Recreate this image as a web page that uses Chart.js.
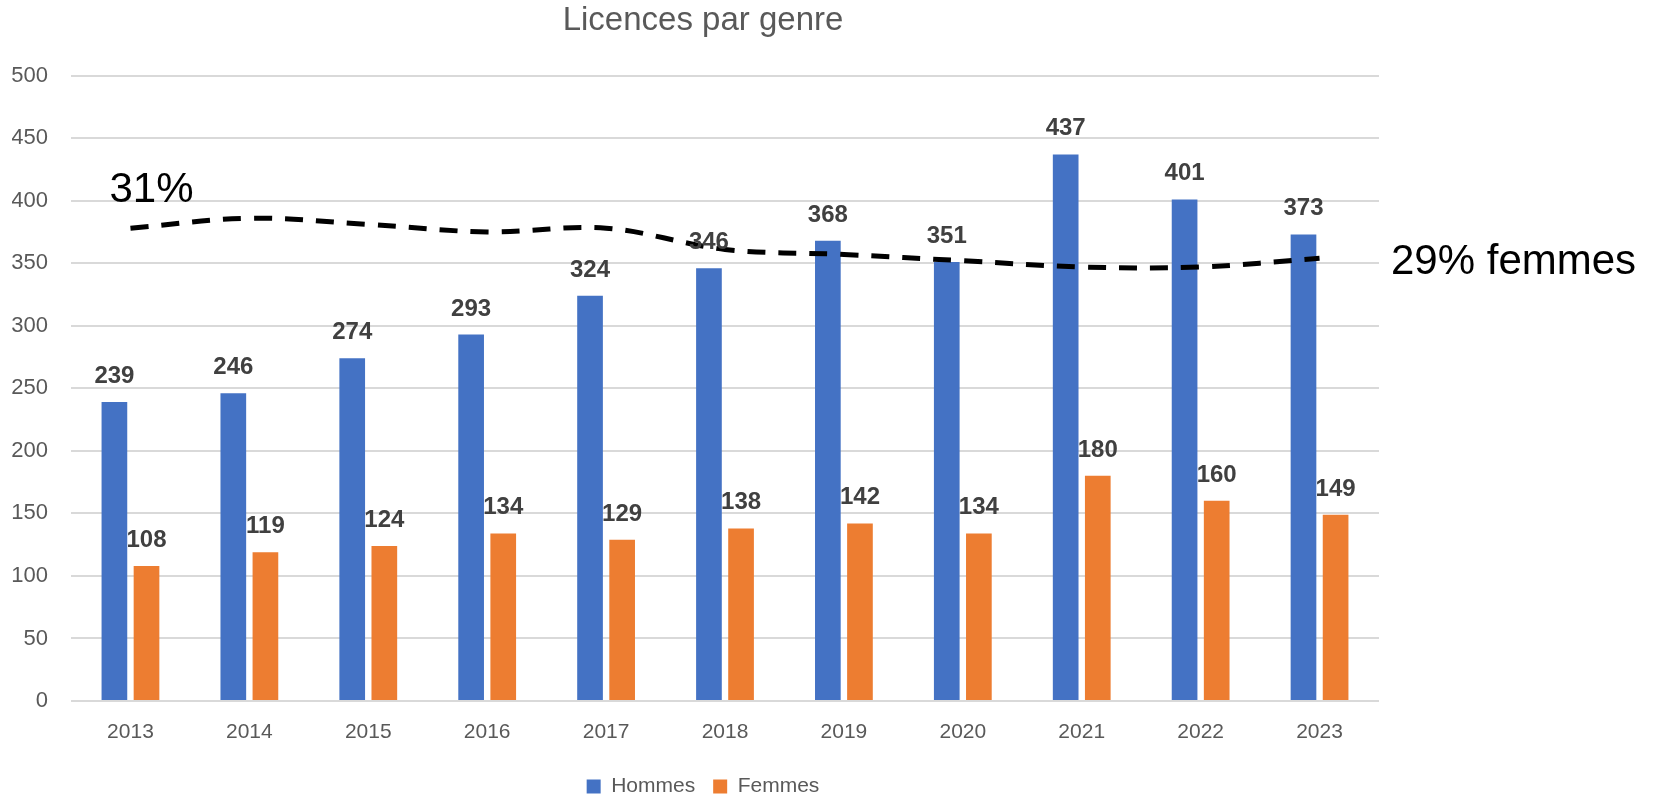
<!DOCTYPE html>
<html>
<head>
<meta charset="utf-8">
<script src="https://cdn.jsdelivr.net/npm/chart.js@4.4.1/dist/chart.umd.min.js"></script>
<style>
  html, body { margin: 0; padding: 0; background: #fff; }
  #wrap { width: 1663px; height: 797px; position: relative; }
</style>
</head>
<body>
<div id="wrap"><canvas id="licChart"></canvas></div>
<script>
// Licences par genre - bars + dashed share line

const years = ["2013","2014","2015","2016","2017","2018","2019","2020","2021","2022","2023"];
const hommes = [239, 246, 274, 293, 324, 346, 368, 351, 437, 401, 373];
const femmes = [108, 119, 124, 134, 129, 138, 142, 134, 180, 160, 149];
// dashed trend, read on the left axis scale
const tendance = [378, 386, 381, 375, 378, 361, 357, 352, 347, 347, 354];
const yTicks = [0, 50, 100, 150, 200, 250, 300, 350, 400, 450, 500];

const FONT = "'Liberation Sans', Arial, sans-serif";
const GREY = '#595959';

// value labels above the bars
const barLabels = {
    id: 'barLabels',
    afterDatasetsDraw(chart) {
        const ctx = chart.ctx;
        ctx.save();
        ctx.font = 'bold 24px ' + FONT;
        ctx.fillStyle = '#404040';
        ctx.textAlign = 'center';
        ctx.textBaseline = 'alphabetic';
        chart.data.datasets.forEach((ds, i) => {
            if (ds.type === 'line') return;
            chart.getDatasetMeta(i).data.forEach((bar, j) => {
                ctx.fillText(ds.data[j], bar.x, bar.y - 19);
            });
        });
        ctx.restore();
    }
};

// the two percentage notes
const notes = {
    id: 'notes',
    afterDraw(chart) {
        const ctx = chart.ctx;
        const x = chart.scales.x, y = chart.scales.y;
        ctx.save();
        ctx.font = '42px ' + FONT;
        ctx.fillStyle = '#000';
        ctx.textAlign = 'left';
        ctx.textBaseline = 'middle';
        ctx.fillText('31%', x.getPixelForValue(0) - 21, y.getPixelForValue(408));
        ctx.fillText('29% femmes', chart.chartArea.right + 12, y.getPixelForValue(351));
        ctx.restore();
    }
};

new Chart(document.getElementById('licChart'), {
    data: {
        labels: years,
        datasets: [
            {
                type: 'line',
                label: 'tendance',
                data: tendance,
                borderColor: '#000',
                borderWidth: 5,
                borderDash: [18, 13],
                pointRadius: 0,
                fill: false,
                tension: 0.35,
                order: 0
            },
            {
                type: 'bar',
                label: 'Hommes',
                data: hommes,
                backgroundColor: '#4472C4',
                categoryPercentage: 0.54,
                barPercentage: 0.8,
                order: 1
            },
            {
                type: 'bar',
                label: 'Femmes',
                data: femmes,
                backgroundColor: '#ED7D31',
                categoryPercentage: 0.54,
                barPercentage: 0.8,
                order: 1
            }
        ]
    },
    options: {
        responsive: true,
        maintainAspectRatio: false,
        animation: false,
        layout: { padding: { left: 12, right: 269, top: 0, bottom: -10 } },
        scales: {
            x: {
                grid: { display: false, drawTicks: false },
                border: { display: false },
                ticks: { color: GREY, font: { family: FONT, size: 21 }, padding: 19 },
                afterFit: (axis) => { axis.height = 57; }
            },
            y: {
                min: 0,
                max: 500,
                afterBuildTicks: (axis) => { axis.ticks = yTicks.map(v => ({ value: v })); },
                grid: { color: '#d9d9d9', lineWidth: 2, drawTicks: false },
                border: { display: false },
                ticks: { color: GREY, font: { family: FONT, size: 22 }, padding: 23 },
                afterFit: (axis) => { axis.width = 59; }
            },
            // empty right axis, only keeps the plot narrower than the title/legend block
            yr: {
                position: 'right',
                grid: { display: false, drawTicks: false },
                border: { display: false },
                ticks: { display: false },
                afterFit: (axis) => { axis.width = 15; }
            }
        },
        plugins: {
            title: {
                display: true,
                text: 'Licences par genre',
                color: GREY,
                font: { family: FONT, size: 33, weight: 'normal' },
                padding: { top: 1, bottom: 35 }
            },
            legend: {
                position: 'bottom',
                labels: {
                    color: GREY,
                    font: { family: FONT, size: 21 },
                    boxWidth: 14,
                    boxHeight: 14,
                    padding: 18,
                    filter: (item) => item.text !== 'tendance'
                }
            },
            tooltip: { enabled: false }
        }
    },
    plugins: [barLabels, notes]
});
</script>
</body>
</html>
